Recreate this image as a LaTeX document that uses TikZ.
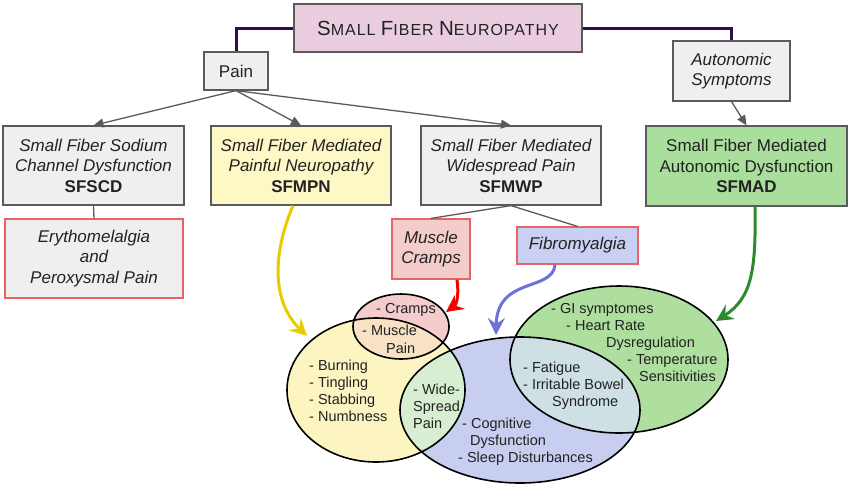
\documentclass[tikz,border=0pt]{standalone}
\usepackage{fontspec}
\setmainfont{Liberation Sans}
\usetikzlibrary{arrows.meta}
\definecolor{txt}{HTML}{222222}
\definecolor{lnk}{HTML}{5A5A5A}
\definecolor{titlefill}{HTML}{EBCDE0}
\definecolor{purp}{HTML}{2A0E50}
\definecolor{boxgrey}{HTML}{EFEFEF}
\definecolor{boxyel}{HTML}{FEF8C6}
\definecolor{boxgrn}{HTML}{A9DE9C}
\definecolor{redline}{HTML}{E86464}
\definecolor{boxpink}{HTML}{F4CCCC}
\definecolor{boxblue}{HTML}{C9D0F3}
\definecolor{ellyel}{HTML}{FCF5C2}
\definecolor{ellred}{HTML}{F4CCCC}
\definecolor{ellblue}{HTML}{C8CEF0}
\definecolor{ellgrn}{HTML}{AEDF9E}
\definecolor{ovpeach}{HTML}{F8E2C6}
\definecolor{ovgrn}{HTML}{D8EED2}
\definecolor{ovteal}{HTML}{CFE0E4}
\definecolor{arryel}{HTML}{E8CC00}
\definecolor{arrred}{HTML}{F20000}
\definecolor{arrblue}{HTML}{6A74D6}
\definecolor{arrgrn}{HTML}{2E8A2E}
\tikzset{
  boxnode/.style={draw=lnk, line width=1.2pt, align=center, inner sep=0pt, text=txt,
    font=\fontsize{17}{20.5}\selectfont},
  redbox/.style={boxnode, draw=redline},
  glink/.style={draw=lnk, line width=1.3pt},
  garrow/.style={glink, -{Triangle[length=10pt,width=9pt]}},
  plink/.style={draw=purp, line width=3pt},
  carrow/.style={line width=3pt, -{Stealth[length=17pt,width=17pt,inset=6pt]}},
  etext/.style={font=\fontsize{14.5}{17}\selectfont, anchor=base west, inner sep=0pt, text=txt},
  eline/.style={draw=black, line width=1.6pt}
}
\begin{document}
\begin{tikzpicture}[x=1pt,y=-1pt]
\useasboundingbox (0,0) rectangle (850,488);
% ---- boxes
\node[boxnode, fill=titlefill, minimum width=288pt, minimum height=48pt] (title) at (438,28)
 {{\addfontfeature{LetterSpace=6}{\fontsize{20.5}{24}\selectfont S}{\fontsize{16}{24}\selectfont MALL }{\fontsize{20.5}{24}\selectfont F}{\fontsize{16}{24}\selectfont IBER }{\fontsize{20.5}{24}\selectfont N}{\fontsize{16}{24}\selectfont EUROPATHY}}};
\node[boxnode, fill=boxgrey, minimum width=64pt, minimum height=38pt] (pain) at (236,71) {Pain};
\node[boxnode, fill=boxgrey, minimum width=117pt, minimum height=60pt] (auto) at (731.5,71) {\itshape Autonomic\\\itshape Symptoms};
\node[boxnode, fill=boxgrey, minimum width=181pt, minimum height=79pt] (sfscd) at (93.5,165.5)
 {\itshape Small Fiber Sodium\\\itshape Channel Dysfunction\\\bfseries SFSCD};
\node[boxnode, fill=boxyel, minimum width=180pt, minimum height=79pt] (sfmpn) at (301,165.5)
 {\itshape Small Fiber Mediated\\\itshape Painful Neuropathy\\\bfseries SFMPN};
\node[boxnode, fill=boxgrey, minimum width=180pt, minimum height=79pt] (sfmwp) at (511,165.5)
 {\itshape Small Fiber Mediated\\\itshape Widespread Pain\\\bfseries SFMWP};
\node[boxnode, fill=boxgrn, minimum width=201pt, minimum height=80pt] (sfmad) at (746.5,166)
 {Small Fiber Mediated\\Autonomic Dysfunction\\\bfseries SFMAD};
\node[redbox, fill=boxgrey, minimum width=178pt, minimum height=79pt] (ery) at (94,258.5)
 {\itshape Erythomelalgia\\\itshape and\\\itshape Peroxysmal Pain};
\node[redbox, fill=boxpink, minimum width=78pt, minimum height=60pt] (cramps) at (431,249)
 {\itshape Muscle\\\itshape Cramps};
\node[redbox, fill=boxblue, minimum width=121pt, minimum height=37pt] (fibro) at (577.5,245.5)
 {\itshape Fibromyalgia};
% ---- connectors
\draw[plink] (title.west) -| (pain.north);
\draw[plink] (title.east) -| (auto.north);
\draw[garrow] (pain.south) -- (sfscd.north);
\draw[garrow] (pain.south) -- (sfmpn.north);
\draw[garrow] (pain.south) -- (sfmwp.north);
\draw[garrow] (auto.south) -- (sfmad.north);
\draw[glink] (sfscd.south) -- (ery.north);
\draw[glink] (sfmwp.south) -- (cramps.north);
\draw[glink] (sfmwp.south) -- (fibro.north);
% ---- ellipses
\coordinate (cy) at (376,390);
\coordinate (cr) at (401,326.5);
\coordinate (cb) at (520,410);
\coordinate (cg) at (619,359.5);
\fill[ellyel] (cy) ellipse [x radius=89pt, y radius=72pt];
\fill[ellred] (cr) ellipse [x radius=48pt, y radius=32.5pt];
\fill[ellblue] (cb) ellipse [x radius=120pt, y radius=73pt];
\fill[ellgrn] (cg) ellipse [x radius=109pt, y radius=73.5pt];
\begin{scope}
  \clip (cy) ellipse [x radius=89pt, y radius=72pt];
  \fill[ovpeach] (cr) ellipse [x radius=48pt, y radius=32.5pt];
  \fill[ovgrn] (cb) ellipse [x radius=120pt, y radius=73pt];
\end{scope}
\begin{scope}
  \clip (cb) ellipse [x radius=120pt, y radius=73pt];
  \fill[ovteal] (cg) ellipse [x radius=109pt, y radius=73.5pt];
\end{scope}
\draw[eline] (cy) ellipse [x radius=89pt, y radius=72pt];
\draw[eline] (cr) ellipse [x radius=48pt, y radius=32.5pt];
\draw[eline] (cb) ellipse [x radius=120pt, y radius=73pt];
\draw[eline] (cg) ellipse [x radius=109pt, y radius=73.5pt];
% ---- ellipse texts
\node[etext] (r1) at (376,313) {- Cramps};
\node[etext] (r2) at (362,335) {- Muscle};
\node[etext] (r3) at (386,353) {Pain};
\node[etext] (y1) at (309,370) {- Burning};
\node[etext] (y2) at (309,387) {- Tingling};
\node[etext] (y3) at (309,404) {- Stabbing};
\node[etext] (y4) at (309,421) {- Numbness};
\node[etext] (w1) at (413,394) {- Wide-};
\node[etext] (w2) at (413,411) {Spread};
\node[etext] (w3) at (413,428) {Pain};
\node[etext] (b1) at (462,428) {- Cognitive};
\node[etext] (b2) at (470,445) {Dysfunction};
\node[etext] (b3) at (458,462) {- Sleep Disturbances};
\node[etext] (g1) at (551,313) {- GI symptomes};
\node[etext] (g2) at (566,330) {- Heart Rate};
\node[etext] (g3) at (606,347) {Dysregulation};
\node[etext] (g4) at (627,364) {- Temperature};
\node[etext] (g5) at (639,381) {Sensitivities};
\node[etext] (f1) at (523,372) {- Fatigue};
\node[etext] (f2) at (523,389) {- Irritable Bowel};
\node[etext] (f3) at (552,406) {Syndrome};
% ---- curved arrows
\coordinate (ytip) at (307,336);
\coordinate (rtip) at (446,312);
\coordinate (btip) at (496,335);
\coordinate (gtip) at (716,321);
\draw[carrow, arryel] ([xshift=-8pt]sfmpn.south) .. controls (274,250) and (270,300) .. (ytip);
\draw[carrow, arrred] ([xshift=26pt]cramps.south) .. controls (459,294) and (457,304) .. (rtip);
\draw[carrow, arrblue] ([xshift=-22.5pt]fibro.south) .. controls (553,292) and (497,276) .. (btip);
\draw[carrow, arrgrn] ([xshift=8.5pt]sfmad.south) .. controls (756,270) and (752,298) .. (gtip);
\end{tikzpicture}
\end{document}
